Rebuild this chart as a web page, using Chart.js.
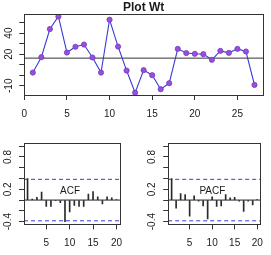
<!DOCTYPE html>
<html>
<head>
<meta charset="utf-8">
<script src="https://cdn.jsdelivr.net/npm/chart.js@4/dist/chart.umd.min.js"></script>
<style>
    html, body { margin: 0; padding: 0; background: #fff; }
    #wrap { position: relative; width: 271px; height: 255px; overflow: hidden; }
    canvas { position: absolute; }
</style>
</head>
<body>
<div id="wrap">
    <canvas id="wt-plot" width="271" height="125" style="left:0;top:0"></canvas>
    <canvas id="acf-plot" width="135" height="125" style="left:0;top:130px"></canvas>
    <canvas id="pacf-plot" width="136" height="125" style="left:135px;top:130px"></canvas>
</div>
<script>
// series
var wtTime = [1, 2, 3, 4, 5, 6, 7, 8, 9, 10, 11, 12, 13, 14, 15, 16, 17, 18, 19, 20, 21, 22, 23, 24, 25, 26, 27];
var wtValues = [2.5, 17.1, 43.8, 55.8, 21.5, 27, 29.1, 16.8, 2.5, 52.7, 27.2, 4.4, -16.6, 4.8, 0, -13.3, -7.6,
    25, 21, 20.3, 20, 14.6, 23.1, 21.2, 25, 22.5, -9.2];
var wtLevel = 16.2;
var wtXTicks = [0, 5, 10, 15, 20, 25];
var wtYTicks = [-10, 0, 10, 20, 30, 40, 50];
var wtYLabels = ['-10', '', '', '20', '', '40', ''];

var lags = [1, 2, 3, 4, 5, 6, 7, 8, 9, 10, 11, 12, 13, 14, 15, 16, 17, 18, 19, 20];
var acfValues = [0.40, 0.02, 0.05, 0.15, -0.12, -0.12, -0.01, -0.05, -0.40, -0.22,
    -0.10, -0.12, -0.12, 0.11, 0.16, 0.06, -0.07, 0.06, 0.04, 0.01];
var pacfValues = [0.40, -0.15, 0.12, 0.10, -0.30, 0.08, -0.02, -0.11, -0.35, 0.06,
    -0.12, -0.11, 0.10, 0.04, 0.05, -0.02, -0.21, -0.02, -0.09, 0.01];
var ciBound = 0.385;
var lagXTicks = [5, 10, 15, 20];
var corYTicks = [-0.4, -0.2, 0, 0.2, 0.4, 0.6, 0.8, 1.0];
var corYLabels = ['-0.4', '', '', '0.2', '', '', '0.8', ''];

var inkColor = '#1a1a1a';
var lineBlue = '#3a3ad8';
var tickFont = { family: '"Liberation Sans", Arial, sans-serif', size: 10 };

// box, rotated y labels and panel titles, R style
function rFrame(yTicks, yLabels, title, titleStyle) {
    return {
        id: 'rFrame',
        afterDraw: function (chart) {
            var ctx = chart.ctx;
            var a = chart.chartArea;
            var ys = chart.scales.y;
            ctx.save();
            ctx.strokeStyle = '#333';
            ctx.lineWidth = 1;
            ctx.strokeRect(Math.round(a.left) + 0.5, Math.round(a.top) + 0.5,
                Math.round(a.right - a.left), Math.round(a.bottom - a.top));

            ctx.fillStyle = inkColor;
            ctx.font = '10px "Liberation Sans", Arial, sans-serif';
            ctx.textAlign = 'center';
            ctx.textBaseline = 'middle';
            yTicks.forEach(function (v, i) {
                if (!yLabels[i]) return;
                ctx.save();
                ctx.translate(a.left - 15.5, ys.getPixelForValue(v));
                ctx.rotate(-Math.PI / 2);
                ctx.fillText(yLabels[i], 0, 0);
                ctx.restore();
            });

            if (title) {
                if (titleStyle === 'main') {
                    ctx.font = 'bold 12px "Liberation Sans", Arial, sans-serif';
                    ctx.fillText(title, (a.left + a.right) / 2, 7.5);
                } else {
                    ctx.font = '10px "Liberation Sans", Arial, sans-serif';
                    ctx.fillText(title, (a.left + a.right) / 2 - 2, ys.getPixelForValue(0.17));
                }
            }
            ctx.restore();
        }
    };
}

function xAxis(min, max, ticks, height) {
    return {
        type: 'linear',
        min: min,
        max: max,
        offset: false,
        grid: { offset: false, drawOnChartArea: false, drawTicks: true, tickLength: 5, color: '#333' },
        border: { display: false },
        afterBuildTicks: function (scale) {
            scale.ticks = ticks.map(function (v) { return { value: v }; });
        },
        afterFit: function (scale) { scale.height = height; },
        ticks: {
            autoSkip: false,
            maxRotation: 0,
            padding: 8,
            color: inkColor,
            font: tickFont,
            callback: function (val) { return String(val); }
        }
    };
}

function yAxis(min, max, ticks, width) {
    return {
        type: 'linear',
        min: min,
        max: max,
        beginAtZero: false,
        grid: { drawOnChartArea: false, drawTicks: true, tickLength: 5, color: '#333' },
        border: { display: false },
        afterBuildTicks: function (scale) {
            scale.ticks = ticks.map(function (v) { return { value: v }; });
        },
        afterFit: function (scale) { scale.width = width; },
        ticks: { display: false }
    };
}

function hLine(y, x0, x1, color, dash) {
    return {
        type: 'line',
        data: [{ x: x0, y: y }, { x: x1, y: y }],
        borderColor: color,
        borderWidth: 1,
        borderDash: dash || [],
        pointRadius: 0,
        fill: false
    };
}

// top panel
var wtPoints = wtTime.map(function (t, i) { return { x: t, y: wtValues[i] }; });

new Chart(document.getElementById('wt-plot').getContext('2d'), {
    type: 'line',
    data: {
        datasets: [
            {
                data: wtPoints,
                borderColor: lineBlue,
                borderWidth: 1.1,
                pointRadius: 2.6,
                pointBackgroundColor: '#9b4ed6',
                pointBorderColor: '#6d3fc4',
                pointBorderWidth: 0.8,
                tension: 0
            },
            hLine(wtLevel, 0, 28, '#333')
        ]
    },
    options: {
        responsive: false,
        animation: false,
        events: [],
        layout: { padding: { left: 0, top: 14, right: 8, bottom: 0 } },
        scales: {
            x: xAxis(0, 28, wtXTicks, 30),
            y: yAxis(-18.8, 58.1, wtYTicks, 24.3)
        },
        plugins: { legend: { display: false }, tooltip: { enabled: false } }
    },
    plugins: [rFrame(wtYTicks, wtYLabels, 'Plot Wt', 'main')]
});

// correlogram panels
function corPanel(id, values, title, yWidth, rightPad) {
    var spikes = lags.map(function (l, i) { return { x: l, y: values[i] }; });
    new Chart(document.getElementById(id).getContext('2d'), {
        type: 'bar',
        data: {
            datasets: [
                {
                    type: 'bar',
                    data: spikes,
                    backgroundColor: '#2a2a2a',
                    borderWidth: 0,
                    barThickness: 1,
                    grouped: false
                },
                hLine(0, 0.24, 20.76, '#222'),
                hLine(ciBound, 0.24, 20.76, lineBlue, [4, 3]),
                hLine(-ciBound, 0.24, 20.76, lineBlue, [4, 3])
            ]
        },
        options: {
            responsive: false,
            animation: false,
            events: [],
            layout: { padding: { left: 0, top: 13, right: rightPad, bottom: 0 } },
            scales: {
                x: xAxis(0.24, 20.76, lagXTicks, 30.7),
                y: yAxis(-0.45, 1.06, corYTicks, yWidth)
            },
            plugins: { legend: { display: false }, tooltip: { enabled: false } }
        },
        plugins: [rFrame(corYTicks, corYLabels, title, 'inner')]
    });
}

corPanel('acf-plot', acfValues, 'ACF', 24, 15);
corPanel('pacf-plot', pacfValues, 'PACF', 33.2, 6.7);
</script>
</body>
</html>
